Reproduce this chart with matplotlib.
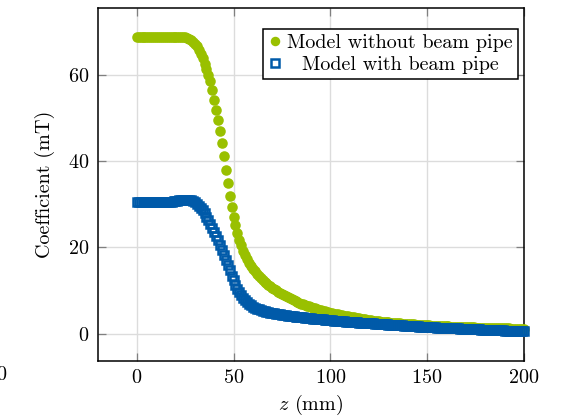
import numpy as np
import matplotlib
matplotlib.use("Agg")
import matplotlib.pyplot as plt
import matplotlib.transforms as mtransforms

plt.rcParams['font.family'] = ['cmr10', 'DejaVu Serif']
plt.rcParams['mathtext.fontset'] = 'cm'
plt.rcParams['axes.formatter.use_mathtext'] = True
plt.rcParams['axes.unicode_minus'] = False

# z positions (mm), sampled every 1 mm
z_mm = np.arange(0, 201, 1)

without_pipe = [
    68.8, 68.8, 68.8, 68.8, 68.8, 68.8, 68.8, 68.8, 68.8, 68.8,
    68.8, 68.8, 68.8, 68.8, 68.8, 68.8, 68.8, 68.8, 68.8, 68.8,
    68.8, 68.8, 68.8, 68.8, 68.75, 68.7, 68.6, 68.4, 68.1, 67.7,
    67.2, 66.6, 65.8, 64.9, 63.8, 62.6, 61.3, 60.0, 58.5, 56.4,
    54.2, 51.9, 49.6, 46.9, 44.2, 41.1, 38.0, 34.9, 31.9, 29.3,
    27.1, 25.1, 23.3, 21.8, 20.5, 19.3, 18.2, 17.3, 16.5, 15.8,
    15.1, 14.5, 13.9, 13.4, 12.9, 12.5, 12.1, 11.7, 11.3, 11.0,
    10.7, 10.4, 10.1, 9.8, 9.5, 9.2, 8.95, 8.7, 8.45, 8.2,
    8.0, 7.8, 7.6, 7.4, 7.2, 7.0, 6.82, 6.65, 6.49, 6.34,
    6.2, 6.05, 5.9, 5.76, 5.62, 5.49, 5.36, 5.24, 5.12, 5.01,
    4.9, 4.8, 4.7, 4.6, 4.5, 4.4, 4.3, 4.21, 4.12, 4.03,
    3.95, 3.87, 3.79, 3.71, 3.63, 3.55, 3.48, 3.41, 3.34, 3.27,
    3.2, 3.14, 3.08, 3.02, 2.96, 2.9, 2.85, 2.8, 2.75, 2.7,
    2.65, 2.61, 2.57, 2.53, 2.49, 2.45, 2.41, 2.37, 2.33, 2.29,
    2.25, 2.22, 2.19, 2.16, 2.13, 2.1, 2.07, 2.04, 2.01, 1.98,
    1.95, 1.93, 1.91, 1.88, 1.86, 1.84, 1.81, 1.79, 1.77, 1.74,
    1.72, 1.7, 1.68, 1.66, 1.64, 1.62, 1.61, 1.59, 1.57, 1.55,
    1.53, 1.52, 1.5, 1.49, 1.47, 1.46, 1.44, 1.43, 1.41, 1.4,
    1.38, 1.37, 1.36, 1.34, 1.33, 1.32, 1.31, 1.29, 1.28, 1.27,
    1.25, 1.24, 1.23, 1.22, 1.21, 1.2, 1.18, 1.17, 1.16, 1.15,
    1.13,
]

with_pipe = [
    30.5, 30.5, 30.5, 30.5, 30.5, 30.5, 30.5, 30.5, 30.5, 30.5,
    30.5, 30.5, 30.5, 30.5, 30.5, 30.5, 30.55, 30.6, 30.65, 30.7,
    30.8, 30.85, 30.9, 31.0, 31.05, 31.1, 31.1, 31.05, 30.95, 30.75,
    30.45, 30.1, 29.7, 29.2, 28.6, 27.9, 27.1, 26.3, 25.4, 24.5,
    23.6, 22.7, 21.7, 20.6, 19.5, 18.3, 17.1, 15.9, 14.7, 13.5,
    12.4, 11.3, 10.4, 9.6, 8.9, 8.3, 7.8, 7.3, 6.9, 6.6,
    6.3, 6.05, 5.85, 5.65, 5.5, 5.35, 5.2, 5.1, 5.0, 4.9,
    4.8, 4.72, 4.64, 4.56, 4.49, 4.42, 4.35, 4.29, 4.23, 4.17,
    4.11, 4.05, 4.0, 3.94, 3.89, 3.84, 3.79, 3.74, 3.69, 3.64,
    3.59, 3.54, 3.5, 3.45, 3.41, 3.36, 3.32, 3.28, 3.23, 3.19,
    3.15, 3.11, 3.07, 3.03, 2.99, 2.95, 2.92, 2.88, 2.84, 2.81,
    2.77, 2.74, 2.7, 2.67, 2.64, 2.6, 2.57, 2.54, 2.51, 2.48,
    2.45, 2.42, 2.39, 2.36, 2.33, 2.3, 2.27, 2.24, 2.21, 2.18,
    2.15, 2.12, 2.09, 2.06, 2.03, 2.0, 1.97, 1.94, 1.91, 1.88,
    1.85, 1.82, 1.79, 1.76, 1.73, 1.7, 1.67, 1.64, 1.61, 1.58,
    1.55, 1.53, 1.51, 1.49, 1.47, 1.45, 1.43, 1.41, 1.39, 1.37,
    1.35, 1.33, 1.31, 1.29, 1.27, 1.25, 1.23, 1.21, 1.19, 1.17,
    1.15, 1.13, 1.11, 1.09, 1.07, 1.05, 1.03, 1.01, 0.99, 0.97,
    0.95, 0.93, 0.91, 0.89, 0.87, 0.85, 0.83, 0.81, 0.79, 0.77,
    0.75, 0.73, 0.71, 0.69, 0.67, 0.65, 0.63, 0.61, 0.59, 0.57,
    0.55,
]

labels = ["Model without beam pipe", "Model with beam pipe"]
x_ticks = [0, 50, 100, 150, 200]
y_ticks = [0, 20, 40, 60]

GREEN = "#99C000"
BLUE = "#005AA9"
FS = 14.5

fig = plt.figure(figsize=(5.65, 4.2), dpi=100)
ax = fig.add_axes([98/565, 1 - 361/420, (524-98)/565, (361-7.5)/420])

ax.plot(z_mm, without_pipe, linestyle='none', marker='o', markersize=7.6,
        markerfacecolor=GREEN, markeredgecolor=GREEN, markeredgewidth=0,
        label=labels[0], clip_on=False, zorder=3)
ax.plot(z_mm, with_pipe, linestyle='none', marker='s', markersize=6.3,
        markerfacecolor='none', markeredgecolor=BLUE, markeredgewidth=1.8,
        label=labels[1], clip_on=False, zorder=4)

ax.set_xlim(-20, 200)
ax.set_ylim(-6.3, 75.6)
ax.set_xticks(x_ticks)
ax.set_yticks(y_ticks)
ax.grid(True, color='#dcdcdc', linewidth=1.0, zorder=0)
ax.set_axisbelow(True)
ax.tick_params(axis='both', which='both', direction='in', length=5.5,
               width=0.9, color='#808080', top=True, right=True,
               labelsize=FS, pad=6)
for s in ax.spines.values():
    s.set_linewidth(1.1)
    s.set_color('black')

ax.set_xlabel(r"$z$ (mm)", fontsize=FS)
ax.set_ylabel("Coefficient (mT)", fontsize=FS)
ax.xaxis.set_label_coords(0.5, -0.09)
ax.yaxis.set_label_coords(-0.10, 0.5)

leg = ax.legend(loc='upper right', bbox_to_anchor=(0.986, 0.94),
                fontsize=FS, frameon=True, fancybox=False, shadow=False,
                framealpha=1, edgecolor='black', handlelength=0.7,
                handletextpad=0.25, borderpad=0.25, labelspacing=0.2,
                borderaxespad=0, markerscale=0.9)
leg.get_frame().set_linewidth(1.1)
# centre the second (shorter) legend entry like the original
t2 = leg.get_texts()[1]
t2.set_transform(t2.get_transform() +
                 mtransforms.ScaledTranslation(14.5/100, 0, fig.dpi_scale_trans))

# partially clipped stray tick label at the left border (as in the original)
fig.text(1/565, 1 - 375/420, "0", fontsize=FS, ha='center', va='center')

fig.savefig("out.png", dpi=100)
